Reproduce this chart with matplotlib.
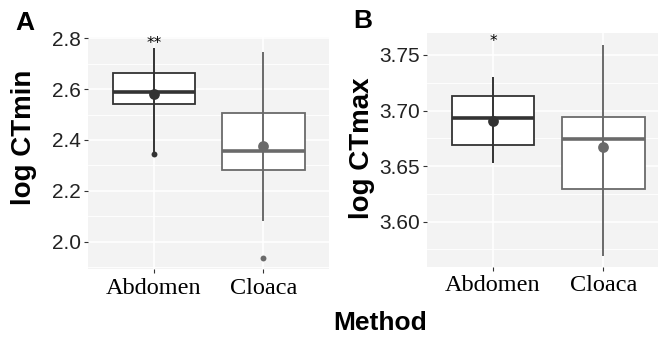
import matplotlib
matplotlib.use('Agg')
import matplotlib.pyplot as plt
from matplotlib.ticker import MultipleLocator

# data
methods = ['Abdomen', 'Cloaca']
colors = ['#333333', '#6a6a6a']

# panel A: log CTmin
min_q1 = [2.540, 2.280]
min_med = [2.587, 2.357]
min_q3 = [2.665, 2.507]
min_mean = [2.580, 2.378]
min_lo = [2.345, 2.083]
min_hi = [2.760, 2.746]
min_out = [[2.345], [1.935]]

# panel B: log CTmax
max_q1 = [3.669, 3.629]
max_med = [3.693, 3.674]
max_q3 = [3.7135, 3.694]
max_mean = [3.691, 3.667]
max_lo = [3.6527, 3.569]
max_hi = [3.730, 3.759]
max_out = [[], []]

stars_min = ['**', '']
stars_max = ['*', '']

fig = plt.figure(figsize=(6.58, 3.4), dpi=100)
axA = fig.add_axes([88/658, 1-269.3/340, (329.3-88)/658, (269.3-37.3)/340])
axB = fig.add_axes([426.7/658, 1-267/340, (658-426.7)/658, (267-33)/340])


def draw_panel(ax, q1, med, q3, mean, lo, hi, outs, stars, star_y):
    ax.set_facecolor('#f3f3f3')
    for i in range(len(methods)):
        x = i + 1
        st = [dict(med=med[i], q1=q1[i], q3=q3[i], whislo=q1[i], whishi=q3[i], fliers=[])]
        ax.bxp(st, positions=[x], widths=0.75, showcaps=False, patch_artist=True,
               boxprops=dict(facecolor='white', edgecolor=colors[i], linewidth=1.3),
               medianprops=dict(color=colors[i], linewidth=2.6),
               whiskerprops=dict(linewidth=0), zorder=3)
        ax.vlines(x, lo[i], hi[i], color=colors[i], linewidth=1.4, zorder=4)
        ax.scatter([x], [mean[i]], s=60, color=colors[i], zorder=5, linewidths=0)
        if outs[i]:
            ax.scatter([x] * len(outs[i]), outs[i], s=18, color=colors[i], zorder=5, linewidths=0)
        if stars[i]:
            ax.text(x, star_y, stars[i], ha='center', va='center', fontsize=11, color='black')
    ax.grid(True, which='major', color='white', linewidth=1.1)
    ax.grid(True, which='minor', axis='y', color='white', linewidth=0.6)
    ax.set_axisbelow(True)
    for s in ax.spines.values():
        s.set_visible(False)
    ax.set_xticks([1, 2])
    ax.set_xticklabels(methods, family='Liberation Serif', fontsize=17.5, color='black')
    ax.tick_params(axis='both', length=3, width=0.8, color='#333333', pad=3)
    ax.tick_params(axis='y', labelsize=15, labelcolor='#222222', pad=2)


draw_panel(axA, min_q1, min_med, min_q3, min_mean, min_lo, min_hi, min_out, stars_min, 2.781)
axA.set_xlim(0.4, 2.6)
axA.set_ylim(1.891, 2.804)
axA.set_yticks([2.0, 2.2, 2.4, 2.6, 2.8])
axA.set_yticklabels(['2.0', '2.2', '2.4', '2.6', '2.8'], family='Liberation Sans')
axA.yaxis.set_minor_locator(MultipleLocator(0.1))
axA.tick_params(axis='y', which='minor', length=0)

draw_panel(axB, max_q1, max_med, max_q3, max_mean, max_lo, max_hi, max_out, stars_max, 3.7625)
axB.set_xlim(0.4, 2 + (658 - 603.3) / 110.7)
axB.set_ylim(3.5592, 3.7698)
axB.set_yticks([3.60, 3.65, 3.70, 3.75])
axB.set_yticklabels(['3.60', '3.65', '3.70', '3.75'], family='Liberation Sans')
axB.yaxis.set_minor_locator(MultipleLocator(0.025))
axB.tick_params(axis='y', which='minor', length=0)

fig.text(24/658, 1-137/340, 'log CTmin', rotation=90, ha='center', va='center',
         fontsize=20, fontweight='bold', family='Liberation Sans')
fig.text(362/658, 1-148/340, 'log CTmax', rotation=90, ha='center', va='center',
         fontsize=20, fontweight='bold', family='Liberation Sans')
fig.text(380/658, 1-323/340, 'Method', ha='center', va='center',
         fontsize=19, fontweight='bold', family='Liberation Sans')
fig.text(25/658, 1-22.5/340, 'A', ha='center', va='center',
         fontsize=19, fontweight='bold', family='Liberation Sans')
fig.text(362.5/658, 1-21/340, 'B', ha='center', va='center',
         fontsize=19, fontweight='bold', family='Liberation Sans')

fig.savefig('out.png', dpi=100)
